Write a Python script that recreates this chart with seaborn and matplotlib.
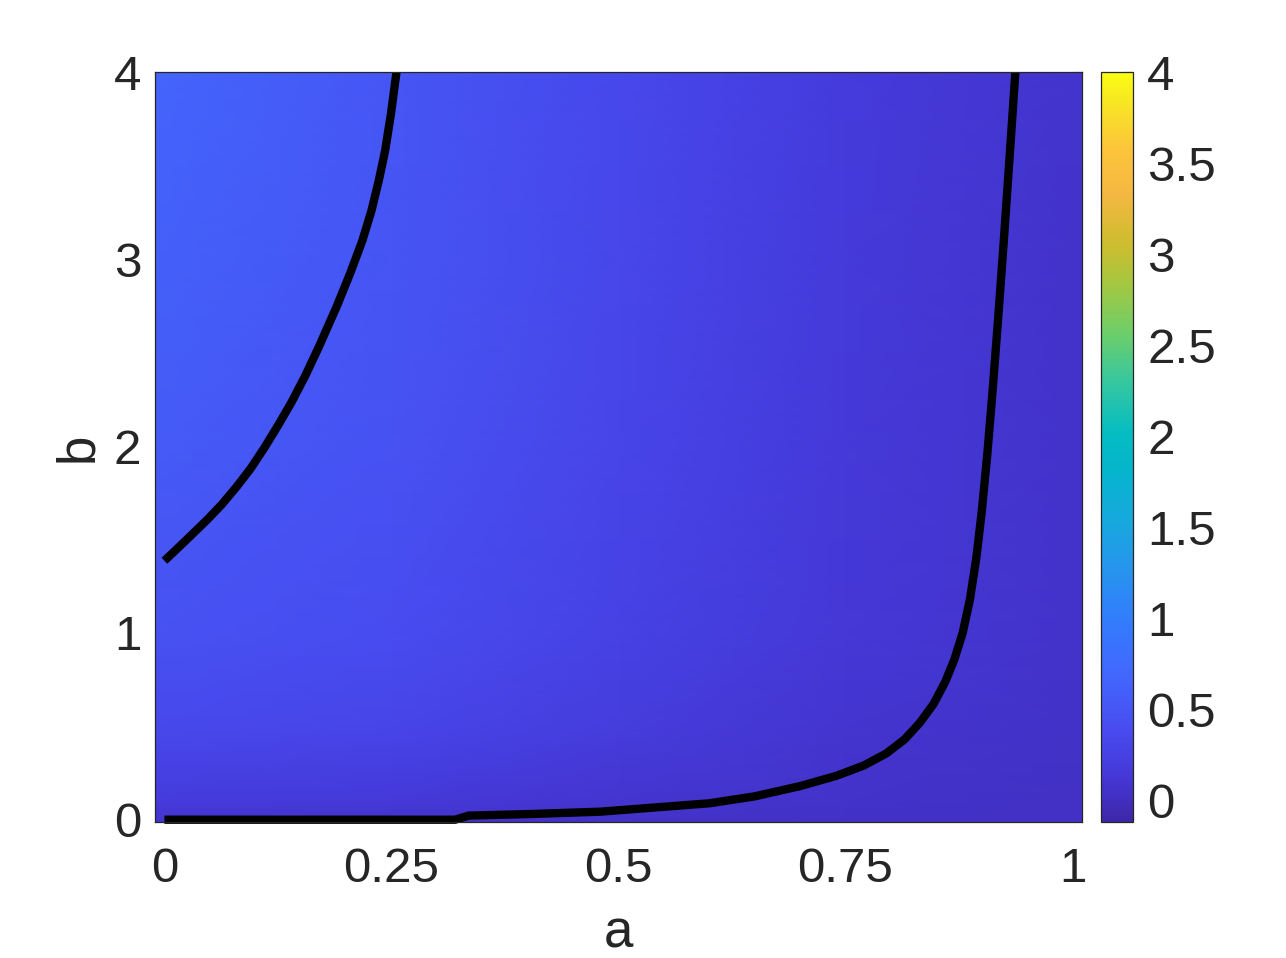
import numpy as np
import pandas as pd
import matplotlib
matplotlib.use("Agg")
import matplotlib.pyplot as plt
from matplotlib.colors import LinearSegmentedColormap
import seaborn as sns

# field values (coarse grid, shaded smoothly)
a_grid = [-0.01, 0.25, 0.5, 0.75, 1.01]
b_grid = [-0.012, 0.1, 0.5, 1.0, 2.0, 3.0, 4.0]
field = [
    [0.08, 0.07, 0.05, 0.04, 0.03],
    [0.18, 0.15, 0.10, 0.06, 0.04],
    [0.35, 0.30, 0.20, 0.10, 0.05],
    [0.45, 0.38, 0.26, 0.13, 0.06],
    [0.55, 0.45, 0.30, 0.15, 0.07],
    [0.62, 0.48, 0.33, 0.16, 0.07],
    [0.66, 0.50, 0.34, 0.17, 0.08],
]

# black curves
upper_a = [0.0, 0.015, 0.03, 0.047, 0.0633, 0.08, 0.095, 0.11, 0.1257, 0.14, 0.155, 0.17,
           0.19, 0.205, 0.218, 0.228, 0.236, 0.243, 0.2495, 0.2555]
upper_b = [1.386, 1.455, 1.525, 1.605, 1.688, 1.785, 1.88, 1.99, 2.115, 2.235, 2.375, 2.53,
           2.75, 2.93, 3.10, 3.26, 3.42, 3.58, 3.78, 4.0]

lower_a = [0.0, 0.32, 0.335, 0.40, 0.48, 0.60, 0.65, 0.70, 0.74, 0.77, 0.795, 0.815, 0.832,
           0.847, 0.86, 0.87, 0.879, 0.887, 0.894, 0.90, 0.906, 0.912, 0.918, 0.924, 0.930, 0.937]
lower_b = [0.0, 0.0, 0.022, 0.03, 0.043, 0.088, 0.125, 0.18, 0.235, 0.29, 0.355, 0.43, 0.52,
           0.62, 0.74, 0.86, 1.0, 1.18, 1.4, 1.65, 1.95, 2.3, 2.68, 3.08, 3.5, 4.0]

x_ticks = [0, 0.25, 0.5, 0.75, 1]
x_labels = ["0", "0.25", "0.5", "0.75", "1"]
y_ticks = [0, 1, 2, 3, 4]
cbar_ticks = [0, 0.5, 1, 1.5, 2, 2.5, 3, 3.5, 4]
cbar_labels = ["0", "0.5", "1", "1.5", "2", "2.5", "3", "3.5", "4"]

# parula-like colormap
parula_pts = [
    (0.00, (0.2422, 0.1504, 0.6603)),
    (0.06, (0.2700, 0.2200, 0.8450)),
    (0.12, (0.2810, 0.2950, 0.9400)),
    (0.19, (0.2650, 0.3980, 0.9920)),
    (0.27, (0.1950, 0.4900, 0.9900)),
    (0.34, (0.1500, 0.5850, 0.9300)),
    (0.40, (0.0900, 0.6600, 0.8700)),
    (0.47, (0.0200, 0.7100, 0.8000)),
    (0.52, (0.0200, 0.7400, 0.7600)),
    (0.59, (0.2200, 0.7800, 0.6200)),
    (0.65, (0.4200, 0.8100, 0.4200)),
    (0.72, (0.6500, 0.7800, 0.2500)),
    (0.77, (0.8000, 0.7400, 0.1800)),
    (0.84, (0.9600, 0.7200, 0.2600)),
    (0.90, (0.9900, 0.7700, 0.2300)),
    (0.95, (0.9700, 0.8800, 0.1500)),
    (1.00, (0.9769, 0.9839, 0.0805)),
]
parula = LinearSegmentedColormap.from_list("parula", parula_pts)

sns.set_style("white")
plt.rcParams["font.family"] = ["Liberation Sans", "DejaVu Sans"]
plt.rcParams["text.color"] = "#262626"

fig = plt.figure(figsize=(12.86, 9.58), dpi=100)
ax = fig.add_axes([0.1208, 0.142, 0.7203, 0.7825])
cax = fig.add_axes([0.8564, 0.142, 0.0249, 0.7825])

A, B = np.meshgrid(a_grid, b_grid)
mesh = ax.pcolormesh(A, B, np.array(field), shading="gouraud", cmap=parula, vmin=-0.12, vmax=4)

upper = pd.DataFrame({"a": upper_a, "b": upper_b})
lower = pd.DataFrame({"a": lower_a, "b": lower_b})
sns.lineplot(data=upper, x="a", y="b", sort=False, estimator=None, color="black",
             linewidth=6, ax=ax, solid_capstyle="butt", solid_joinstyle="round")
sns.lineplot(data=lower, x="a", y="b", sort=False, estimator=None, color="black",
             linewidth=6, ax=ax, solid_capstyle="butt", solid_joinstyle="round", clip_on=False)

ax.set_xlim(-0.01, 1.01)
ax.set_ylim(-0.012, 4.0)
ax.set_xticks(x_ticks)
ax.set_xticklabels(x_labels)
ax.set_yticks(y_ticks)
ax.tick_params(direction="in", length=6.5, width=0.8, colors="#262626", labelsize=35.5,
               top=True, right=True)
ax.tick_params(axis="x", pad=18)
ax.tick_params(axis="y", pad=10)
for s in ax.spines.values():
    s.set_color("#262626")
    s.set_linewidth(0.9)
ax.set_xlabel("a", fontsize=38, labelpad=12)
ax.set_ylabel("b", fontsize=38, labelpad=8)

cb = fig.colorbar(mesh, cax=cax)
cb.set_ticks(cbar_ticks)
cb.set_ticklabels(cbar_labels)
cax.tick_params(direction="in", length=6.5, width=0.8, colors="#262626", labelsize=35.5, pad=10)
cb.outline.set_edgecolor("#262626")
cb.outline.set_linewidth(0.9)

fig.savefig("out.png", dpi=100)
